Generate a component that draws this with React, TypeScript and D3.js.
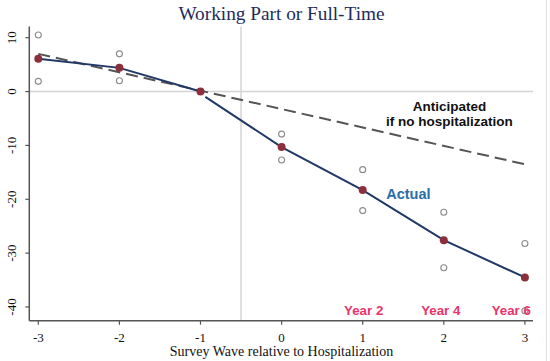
import React from 'react';
import * as d3 from 'd3';

const waves = [-3, -2, -1, 0, 1, 2, 3];
const actual = [6.1, 4.4, 0, -10.3, -18.3, -27.6, -34.5];
const ciHigh = [10.5, 7.0, null, -7.9, -14.5, -22.4, -28.2];
const ciLow = [1.9, 2.0, null, -12.7, -22.1, -32.7, -40.7];
const anticipatedX = [-3, 3];
const anticipatedY = [7.0, -13.5];
const yTicks = [10, 0, -10, -20, -30, -40];
const yearLabels = [
  { wave: 1, text: 'Year 2' },
  { wave: 2, text: 'Year 4' },
  { wave: 3, text: 'Year 6' },
];

const W = 550;
const H = 361;

const App: React.FC = () => {
  const x = d3.scaleLinear().domain([-3, 3]).range([38.3, 524.9]);
  const y = d3.scaleLinear().domain([10, -40]).range([37.7, 307]);

  const axisLeft = 29.3;
  const axisBottom = 320.7;
  const plotTop = 26.5;
  const plotRight = 533;

  const line = d3.line<[number, number]>().x(d => x(d[0])).y(d => y(d[1]));

  const pre: [number, number][] = waves.slice(0, 3).map((w, i) => [w, actual[i]]);
  // post-hospitalization segment starts just past the -1 marker
  const post: [number, number][] = [[-0.94, -1.0], ...waves.slice(3).map((w, i) => [w, actual[i + 3]] as [number, number])];
  const anticipated: [number, number][] = anticipatedX.map((v, i) => [v, anticipatedY[i]]);

  const serif = '"Liberation Serif", "Times New Roman", serif';
  const sans = '"Liberation Sans", Arial, sans-serif';

  return (
    <svg width={W} height={H} style={{ position: 'absolute', left: 0, top: 0, background: '#fff' }}>
      <text x={281.5} y={20} textAnchor="middle" fontFamily={serif} fontSize={19.3} fill="#1e2b5c">
        Working Part or Full-Time
      </text>

      {/* reference lines */}
      <line x1={axisLeft} x2={plotRight} y1={y(0)} y2={y(0)} stroke="#d4d4d4" strokeWidth={1.5} />
      <line x1={x(-0.5)} x2={x(-0.5)} y1={plotTop} y2={axisBottom} stroke="#d4d4d4" strokeWidth={1.5} />
      <line x1={546.5} x2={546.5} y1={0} y2={H} stroke="#e2e2e2" strokeWidth={1} />

      {/* axes */}
      <line x1={axisLeft} x2={axisLeft} y1={plotTop} y2={axisBottom} stroke="#555" strokeWidth={1.5} />
      <line x1={axisLeft} x2={plotRight} y1={axisBottom} y2={axisBottom} stroke="#555" strokeWidth={1.5} />
      {yTicks.map(t => (
        <g key={t}>
          <line x1={axisLeft - 4} x2={axisLeft} y1={y(t)} y2={y(t)} stroke="#555" strokeWidth={1.2} />
          <text transform={`translate(15.5,${y(t)}) rotate(-90)`} textAnchor="middle" fontFamily={serif} fontSize={13} fill="#111">
            {t}
          </text>
        </g>
      ))}
      {waves.map(w => (
        <g key={w}>
          <line x1={x(w)} x2={x(w)} y1={axisBottom} y2={axisBottom + 4} stroke="#555" strokeWidth={1.2} />
          <text x={x(w)} y={341.5} textAnchor="middle" fontFamily={serif} fontSize={13} fill="#111">
            {w}
          </text>
        </g>
      ))}
      <text x={281.5} y={356} textAnchor="middle" fontFamily={serif} fontSize={14} fill="#111">
        Survey Wave relative to Hospitalization
      </text>

      {/* confidence bounds */}
      {waves.map((w, i) => (
        <g key={'ci' + w}>
          {ciHigh[i] !== null && <circle cx={x(w)} cy={y(ciHigh[i] as number)} r={3} fill="#fff" stroke="#8a8a8a" strokeWidth={1.1} />}
          {ciLow[i] !== null && <circle cx={x(w)} cy={y(ciLow[i] as number)} r={3} fill="#fff" stroke="#8a8a8a" strokeWidth={1.1} />}
        </g>
      ))}

      {/* anticipated trend */}
      <path d={line(anticipated) || ''} fill="none" stroke="#555" strokeWidth={2} strokeDasharray="12 6" />

      {/* actual */}
      <path d={line(pre) || ''} fill="none" stroke="#1f3866" strokeWidth={2} />
      <path d={line(post) || ''} fill="none" stroke="#1f3866" strokeWidth={2} />
      {waves.map((w, i) => (
        <circle key={'a' + w} cx={x(w)} cy={y(actual[i])} r={4} fill="#8c2f3c" />
      ))}

      {/* annotations */}
      <text x={x(2.07)} y={y(-3.6)} textAnchor="middle" fontFamily={sans} fontWeight="bold" fontSize={13.5} fill="#111">
        Anticipated
      </text>
      <text x={x(2.07)} y={y(-6.4)} textAnchor="middle" fontFamily={sans} fontWeight="bold" fontSize={13.5} fill="#111">
        if no hospitalization
      </text>
      <text x={x(1.29)} y={y(-19.9)} fontFamily={sans} fontWeight="bold" fontSize={14.5} fill="#2a6ea6">
        Actual
      </text>
      {yearLabels.map(l => (
        <text key={l.text} x={x(l.wave) + (l.wave === 3 ? 6 : l.wave === 2 ? -3 : 1)} y={315}
          textAnchor={l.wave === 3 ? 'end' : 'middle'} fontFamily={sans} fontWeight="bold" fontSize={13.3} fill="#e8346c">
          {l.text}
        </text>
      ))}
    </svg>
  );
};

export default App;
